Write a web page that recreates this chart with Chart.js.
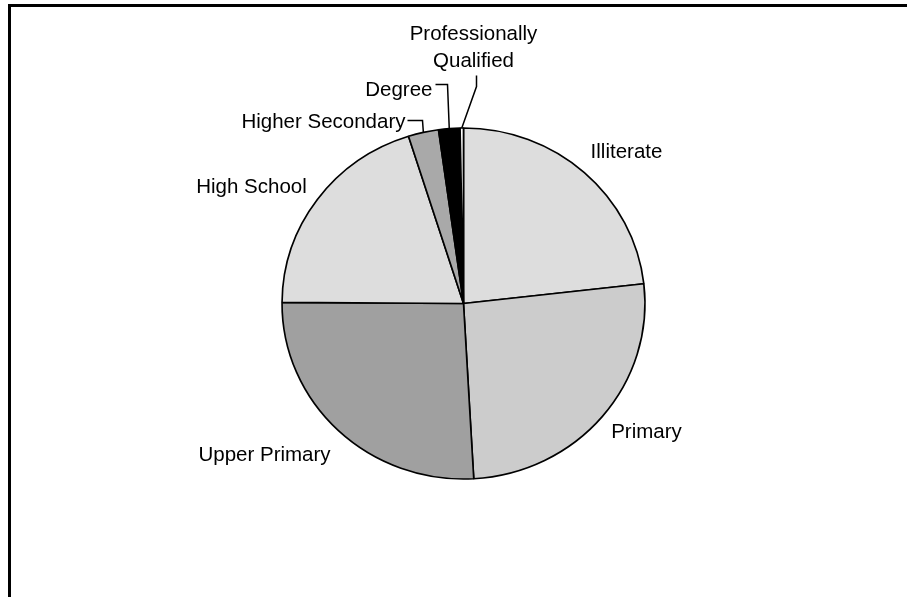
<!DOCTYPE html>
<html>
<head>
<meta charset="utf-8">
<script src="https://cdn.jsdelivr.net/npm/chart.js@4/dist/chart.umd.min.js"></script>
<style>
  html, body { margin: 0; padding: 0; background: #fff; }
  #pie { display: block; }
</style>
</head>
<body>
<canvas id="pie" width="907" height="597"></canvas>
<script>
// education levels, share of respondents (%)
const categories = ['Illiterate', 'Primary', 'Upper Primary', 'High School',
  'Higher Secondary', 'Degree', ['Professionally', 'Qualified']];
const shares = [23.2, 25.9, 26.0, 20.0, 2.7, 1.9, 0.3];
const sliceColors = ['#dddddd', '#cccccc', '#a0a0a0', '#dddddd', '#a9a9a9', '#000000', '#ffffff'];

// the pie is drawn slightly wider than tall
const STRETCH_X = 1.034;

// label placement relative to the pie centre; small slices get a leader line
const labelLayout = [
  { dx: 163, dy: -146, align: 'center' },
  { dx: 183, dy: 134, align: 'center' },
  { dx: -199, dy: 157, align: 'center' },
  { dx: -212, dy: -111, align: 'center' },
  { dx: -58, dy: -176, align: 'right', leader: [[-56, -183], [-41, -183]] },
  { dx: -31, dy: -208, align: 'right', leader: [[-28, -219], [-16, -219]] },
  { dx: 10, dy: -264, align: 'center', lineGap: 27, leader: [[13, -228], [13, -217]] }
];

const FONT = '20.5px "Liberation Sans", Arial, sans-serif';

const frameAndLabels = {
  id: 'frameAndLabels',
  beforeDraw(chart) {
    const ctx = chart.ctx;
    ctx.save();
    ctx.fillStyle = '#fff';
    ctx.fillRect(0, 0, chart.width, chart.height);
    // plot frame, open to the right and bottom edges
    ctx.fillStyle = '#000';
    ctx.fillRect(8, 4, chart.width - 8, 3);
    ctx.fillRect(8, 4, 3, chart.height - 4);
    ctx.restore();
  },
  beforeDatasetsDraw(chart) {
    const ctx = chart.ctx;
    const cx = chart.getDatasetMeta(0).data[0].x;
    ctx.save();
    ctx.translate(cx, 0);
    ctx.scale(STRETCH_X, 1);
    ctx.translate(-cx, 0);
  },
  afterDatasetsDraw(chart) {
    chart.ctx.restore();
  },
  afterDraw(chart) {
    const ctx = chart.ctx;
    const arcs = chart.getDatasetMeta(0).data;
    ctx.save();
    ctx.font = FONT;
    ctx.fillStyle = '#000';
    ctx.strokeStyle = '#000';
    ctx.lineWidth = 1.5;
    ctx.textBaseline = 'alphabetic';
    arcs.forEach((arc, i) => {
      const lay = labelLayout[i];
      const cx = arc.x, cy = arc.y;
      const lines = Array.isArray(categories[i]) ? categories[i] : [categories[i]];
      ctx.textAlign = lay.align;
      lines.forEach((t, k) => {
        ctx.fillText(t, cx + lay.dx, cy + lay.dy + k * (lay.lineGap || 0));
      });
      if (lay.leader) {
        const mid = (arc.startAngle + arc.endAngle) / 2;
        const ex = cx + Math.cos(mid) * arc.outerRadius * STRETCH_X;
        const ey = cy + Math.sin(mid) * arc.outerRadius;
        ctx.beginPath();
        ctx.moveTo(cx + lay.leader[0][0], cy + lay.leader[0][1]);
        for (let k = 1; k < lay.leader.length; k++) {
          ctx.lineTo(cx + lay.leader[k][0], cy + lay.leader[k][1]);
        }
        ctx.lineTo(ex, ey);
        ctx.stroke();
      }
    });
    ctx.restore();
  }
};

new Chart(document.getElementById('pie'), {
  type: 'pie',
  data: {
    labels: categories,
    datasets: [{
      data: shares,
      backgroundColor: sliceColors,
      borderColor: '#000',
      borderWidth: 1.6
    }]
  },
  options: {
    responsive: false,
    animation: false,
    radius: 175.5,
    layout: { padding: { left: 20, top: 10, right: 0, bottom: 0 } },
    plugins: {
      legend: { display: false },
      tooltip: { enabled: false }
    }
  },
  plugins: [frameAndLabels]
});
</script>
</body>
</html>
